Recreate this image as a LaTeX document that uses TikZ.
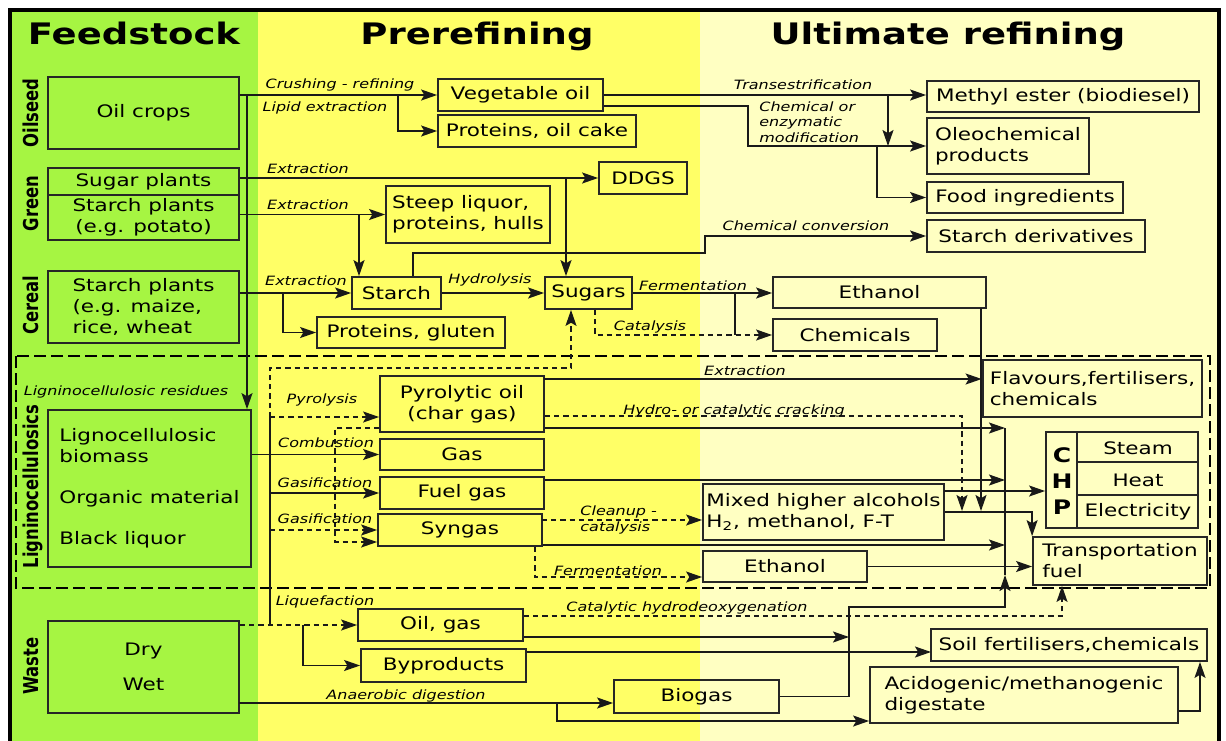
\documentclass[tikz,border=0pt]{standalone}
\usepackage{fontspec}
\setmainfont{DejaVu Sans}[FakeStretch=1.25]
\newfontfamily\sidefont{DejaVu Sans}[FakeStretch=0.8]
\usepackage{tikz}
\usetikzlibrary{arrows.meta}
\definecolor{feedgreen}{RGB}{166,245,66}
\definecolor{preyellow}{RGB}{255,255,102}
\definecolor{ultyellow}{RGB}{255,255,194}
\tikzset{
  pbox/.style={draw=black!85,line width=0.9pt,inner sep=0pt,font=\fontsize{8.6}{10.5}\selectfont},
  sz/.style 2 args={minimum width=#1*0.5pt,minimum height=#2*0.5pt},
  txt/.style={inner sep=0pt,font=\fontsize{8.6}{10.5}\selectfont},
  lbl/.style={inner sep=0pt,font=\fontsize{6.4}{7.7}\selectfont\itshape},
  ttl/.style={inner sep=0pt,font=\fontsize{14.8}{18}\selectfont\bfseries},
  sidelbl/.style={rotate=90,inner sep=0pt,font=\sidefont\fontsize{10.25}{12}\selectfont\bfseries},
  flow/.style={line width=0.75pt,draw=black!90,-{Stealth[length=8pt,width=5.5pt,inset=1.6pt]}},
  conn/.style={line width=0.75pt,draw=black!90},
  dsh/.style={dash pattern=on 2.6pt off 2pt},
}
\begin{document}
\begin{tikzpicture}[x=0.5pt,y=-0.5pt]
\useasboundingbox (0,0) rectangle (1226,740);
\fill[feedgreen] (10,10) rectangle (258,745);
\fill[preyellow] (258,10) rectangle (700,745);
\fill[ultyellow] (700,10) rectangle (1219,745);
\draw[line width=2.2pt] (10,760) -- (10,10) -- (1219,10) -- (1219,760);
\draw[line width=1.3pt,dash pattern=on 6pt off 2.5pt] (16,356) rectangle (1210,588);

\node[ttl,anchor=base] (tfeed) at (134,44) {Feedstock};
\node[ttl,anchor=base] (tpre) at (477,44) {Prerefining};
\node[ttl,anchor=base] (tult) at (948,44) {Ultimate refining};

\node[sidelbl] (soilseed) at (31,113) {Oilseed};
\node[sidelbl] (sgreen) at (31,203.5) {Green};
\node[sidelbl] (scereal) at (31,305) {Cereal};
\node[sidelbl] (sligno) at (32.5,486.5) {Ligninocellulosics};
\node[sidelbl] (swaste) at (31,666) {Waste};

\node[pbox,sz={191}{72}] (oilcrops) at (143.5,113) {Oil crops};
\node[pbox,sz={191}{27}] (sugar) at (143.5,181.5) {Sugar plants};
\node[pbox,sz={191}{45},align=center] (potato) at (143.5,217.5) {Starch plants\\(e.g. potato)};
\node[pbox,sz={191}{72},align=left] (cereal) at (143.5,307) {Starch plants\\(e.g. maize,\\rice, wheat};
\node[pbox,sz={203}{157},align=left] (ligno) at (149.5,488.5) {Lignocellulosic\\biomass\\[10pt]Organic material\\[10pt]Black liquor};
\node[pbox,sz={191}{92},align=center] (waste) at (143.5,667) {Dry\\[7pt]Wet};

\node[pbox,sz={165}{32}] (vegoil) at (520.5,95) {Vegetable oil};
\node[pbox,sz={198}{32}] (cake) at (537,131) {Proteins, oil cake};
\node[pbox,sz={88}{32}] (ddgs) at (643,178) {DDGS};
\node[pbox,sz={164}{57},align=left] (steep) at (468,214.5) {Steep liquor,\\proteins, hulls};
\node[pbox,sz={89}{32}] (starch) at (396.5,293) {Starch};
\node[pbox,sz={188}{31}] (gluten) at (411,332.5) {Proteins, gluten};
\node[pbox,sz={87}{32}] (sugars) at (588.5,293) {Sugars};
\node[pbox,sz={164}{56},align=center] (pyro) at (462,404) {Pyrolytic oil\\(char gas)};
\node[pbox,sz={164}{31}] (gas) at (462,454.5) {Gas};
\node[pbox,sz={164}{32}] (fuelgas) at (462,493) {Fuel gas};
\node[pbox,sz={164}{32}] (syngas) at (460,530) {Syngas};
\node[pbox,sz={165}{32}] (oilgas) at (440.5,625) {Oil, gas};
\node[pbox,sz={165}{33}] (byprod) at (443.5,665.5) {Byproducts};
\node[pbox,sz={165}{33}] (biogas) at (696.5,696.5) {Biogas};

\node[pbox,sz={272}{31}] (methyl) at (1063,96.5) {Methyl ester (biodiesel)};
\node[pbox,sz={162}{56},align=left] (oleo) at (1008,146) {Oleochemical\\products};
\node[pbox,sz={196}{31}] (food) at (1025,197.5) {Food ingredients};
\node[pbox,sz={218}{32}] (starchder) at (1036,236) {Starch derivatives};
\node[pbox,sz={213}{31}] (ethtop) at (879.5,292.5) {Ethanol};
\node[pbox,sz={164}{32}] (chem) at (855,335) {Chemicals};
\node[pbox,sz={219}{57},align=left,line width=1.4pt] (flav) at (1092.5,388.5) {Flavours,fertilisers,\\chemicals};
\node[pbox,sz={241}{56},align=left] (mixed) at (823.5,512) {Mixed higher alcohols\\H\textsubscript{2}, methanol, F-T};
\node[pbox,sz={164}{31}] (ethbot) at (785,566.5) {Ethanol};
\node[pbox,sz={174}{48},align=left] (transp) at (1120,561) {Transportation\\fuel};
\node[pbox,sz={276}{32}] (soil) at (1069,645) {Soil fertilisers,chemicals};
\node[pbox,sz={308}{56},align=left] (acid) at (1024,695) {Acidogenic/methanogenic\\digestate};

\node[pbox,sz={152}{96}] (chp) at (1122,480) {};
\draw[line width=0.9pt,draw=black!85] (chp.north west) ++(32,0) -- ++(0,96);
\draw[line width=0.9pt,draw=black!85] (chp.north west) ++(32,31) -- ++(120,0);
\draw[line width=0.9pt,draw=black!85] (chp.north west) ++(32,64) -- ++(120,0);
\node[align=center,inner sep=0pt,font=\fontsize{10}{13}\selectfont\bfseries] (chpt) at (1062,481) {C\\H\\P};
\node[txt] (steam) at (1138,448) {Steam};
\node[txt] (heat) at (1138,480) {Heat};
\node[txt] (elec) at (1138,512) {Electricity};

\coordinate (trunk) at (247,95);
\coordinate (lipid) at (398,95);
\coordinate (modif) at (748,106);
\coordinate (trans) at (888,95);
\coordinate (foodb) at (877,146);
\draw[flow] (oilcrops.east |- vegoil) -- (vegoil.west);
\draw[flow] (trunk) -- (trunk |- ligno.north);
\draw[flow] (lipid) |- (cake.west);
\draw[flow] (vegoil.east) -- (vegoil.east -| methyl.west);
\draw[flow] (vegoil.east |- modif) -- (modif) |- (oleo.west);
\draw[flow] (trans) -- (trans |- oleo.west);
\draw[flow] (foodb) |- (food.west);

\coordinate (ddgsb) at (566,178);
\coordinate (steepb) at (359,214.5);
\draw[flow] (sugar.east |- ddgs) -- (ddgs.west);
\draw[flow] (ddgsb) -- (ddgsb |- sugars.north);
\draw[flow] (potato.east |- steep) -- (steep.west);
\draw[flow] (steepb) -- (steepb |- starch.north);

\coordinate (glutb) at (283,293);
\coordinate (conv) at (705,253);
\coordinate (chemb) at (735,293);
\coordinate (ethd) at (981,308);
\coordinate (ethe) at (981,511);
\draw[flow] (cereal.east |- starch) -- (starch.west);
\draw[flow] (glutb) |- (gluten.west);
\draw[flow] (starch) -- (sugars);
\draw[flow] (starch.north) ++(16.5,0) |- (conv) |- (starchder.west);
\draw[flow] (sugars.east) -- (sugars.east -| ethtop.west);
\draw[conn] (chemb) -- (chemb |- chem.west);
\draw[flow,dsh] (sugars.south) ++(6.5,0) |- (chem.west);
\draw[flow] (ethd) -- (ethe);

\coordinate (pyb) at (270,417);
\coordinate (liqb) at (270,625);
\coordinate (sugd) at (571,368);
\coordinate (char) at (335,428);
\coordinate (chare) at (335,542);
\draw[conn] (pyb) -- (liqb);
\draw[flow,dsh] (pyb) -- (pyb -| pyro.west);
\draw[flow,dsh] (pyb) |- (sugd) -- (sugd |- sugars.south);
\draw[flow] (ligno.east |- gas) -- (gas.west);
\draw[flow] (pyb |- fuelgas) -- (fuelgas.west);
\draw[flow,dsh] (pyb |- syngas) -- (syngas.west);
\draw[flow,dsh] (char -| pyro.west) -- (char) -- (chare) -- (chare -| syngas.west);

\coordinate (flavl) at (544,379);
\coordinate (crack) at (962,416);
\coordinate (cracke) at (962,511);
\coordinate (bus) at (1005,428);
\coordinate (busb) at (1005,575);
\coordinate (fgl) at (1005,480);
\coordinate (sgl) at (1005,545);
\coordinate (chpin) at (944,491);
\coordinate (clean) at (542,520);
\coordinate (ferm) at (535,577);
\draw[flow] (flavl) -- (flavl -| flav.west);
\draw[flow,dsh] (crack -| pyro.east) -- (crack) -- (cracke);
\draw[flow] (bus -| pyro.east) -- (bus);
\draw[conn] (bus) -- (busb);
\draw[flow] (fgl -| fuelgas.east) -- (fgl);
\draw[flow] (sgl -| syngas.east) -- (sgl);
\draw[flow] (chpin) -- (chpin -| chp.west);
\draw[flow] (mixed.east) -| (transp.north west);
\draw[flow] (ethbot.east) -- (ethbot.east -| transp.west);
\draw[flow,dsh] (clean) -- (clean -| mixed.west);
\draw[flow,dsh] (ferm |- syngas.south) -- (ferm) -- (ferm -| ethbot.west);

\coordinate (bypb) at (303,625);
\coordinate (anae) at (239,703);
\coordinate (acidb) at (557,703);
\coordinate (acidl) at (557,721);
\coordinate (hdo) at (1062,616);
\coordinate (bgv) at (849,607);
\coordinate (ogl) at (849,637);
\coordinate (byl) at (931,652);
\coordinate (acs) at (1200,711);
\draw[flow,dsh] (waste.east |- oilgas) -- (oilgas.west);
\draw[flow] (bypb) |- (byprod.west);
\draw[flow] (anae) -- (anae -| biogas.west);
\draw[flow] (acidb) -- (acidl) -- (acidl -| acid.west);
\draw[flow,dsh] (hdo -| oilgas.east) -- (hdo) -- (hdo |- transp.south);
\draw[flow] (biogas.east) -| (bgv) -- (bgv -| busb) -- (busb);
\draw[flow] (ogl -| oilgas.east) -- (ogl);
\draw[flow] (byl -| byprod.east) -- (byl);
\draw[flow] (acs -| acid.east) -- (acs) -- (acs |- soil.south);

\node[lbl,anchor=base] (lcrush) at (340,88) {Crushing - refining};
\node[lbl,anchor=base] (llipid) at (325,111) {Lipid extraction};
\node[lbl,anchor=base] (ltrans) at (803,89) {Transestrification};
\node[lbl,anchor=west,align=left] (lmodif) at (759,122) {Chemical or\\enzymatic\\modification};
\node[lbl,anchor=base] (lext1) at (308,173) {Extraction};
\node[lbl,anchor=base] (lext2) at (308,209) {Extraction};
\node[lbl,anchor=base] (lext3) at (306,285) {Extraction};
\node[lbl,anchor=base] (lhydro) at (490,283) {Hydrolysis};
\node[lbl,anchor=base] (lferm1) at (693,290) {Fermentation};
\node[lbl,anchor=base] (lcat) at (650,330) {Catalysis};
\node[lbl,anchor=base] (lconv) at (806,230) {Chemical conversion};
\node[lbl,anchor=base] (lext4) at (745,375) {Extraction};
\node[lbl,anchor=base] (lcrack) at (734,414) {Hydro- or catalytic cracking};
\node[lbl,anchor=base] (lres) at (126,395) {Ligninocellulosic residues};
\node[lbl,anchor=base] (lpyro) at (322,403) {Pyrolysis};
\node[lbl,anchor=base] (lcomb) at (326,447) {Combustion};
\node[lbl,anchor=base] (lgas1) at (325,487) {Gasification};
\node[lbl,anchor=base] (lgas2) at (325,523) {Gasification};
\node[lbl,anchor=west,align=left] (lclean) at (580,520) {Cleanup -\\catalysis};
\node[lbl,anchor=base] (lferm2) at (608,575) {Fermentation};
\node[lbl,anchor=base] (lliq) at (325,605) {Liquefaction};
\node[lbl,anchor=base] (lhdo) at (687,611) {Catalytic hydrodeoxygenation};
\node[lbl,anchor=base] (lanae) at (406,699) {Anaerobic digestion};
\end{tikzpicture}
\end{document}
